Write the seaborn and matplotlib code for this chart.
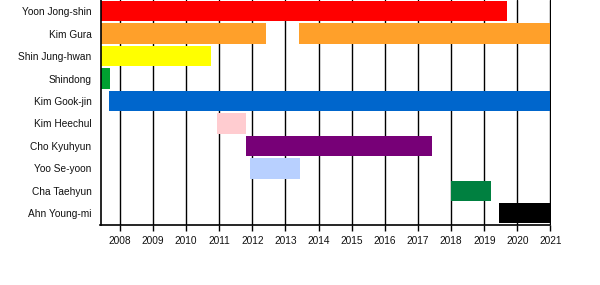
import matplotlib
matplotlib.use("Agg")
import matplotlib.pyplot as plt
import seaborn as sns

# ---- data ----
members = ["Yoon Jong-shin", "Kim Gura", "Shin Jung-hwan", "Shindong", "Kim Gook-jin",
           "Kim Heechul", "Cho Kyuhyun", "Yoo Se-yoon", "Cha Taehyun", "Ahn Young-mi"]
seg_member = ["Yoon Jong-shin", "Kim Gura", "Kim Gura", "Shin Jung-hwan", "Shindong",
              "Kim Gook-jin", "Kim Heechul", "Cho Kyuhyun", "Yoo Se-yoon", "Cha Taehyun",
              "Ahn Young-mi"]
seg_start = [2007.42, 2007.42, 2013.42, 2007.42, 2007.42,
             2007.67, 2010.94, 2011.80, 2011.92, 2017.99, 2019.45]
seg_end = [2019.68, 2012.40, 2021.0, 2010.74, 2007.70,
           2021.0, 2011.80, 2017.43, 2013.45, 2019.21, 2021.0]
seg_color = ["#FF0000", "#FFA02A", "#FFA02A", "#FFFF00", "#00A030",
             "#0066CC", "#FFCCD0", "#770077", "#B8D0FF", "#008040", "#000000"]
years = list(range(2008, 2022))

sns.set_theme(style="white")
plt.rcParams["font.family"] = ["Liberation Sans", "DejaVu Sans"]

fig = plt.figure(figsize=(6.0, 2.85), dpi=100)
ax = fig.add_axes([100.5 / 600, 1 - 224.5 / 285, 450 / 600, 224.5 / 285])

# year gridlines (behind bars)
for yr in years:
    ax.axvline(yr, color="black", lw=1.0, zorder=1)

ypos = {m: i for i, m in enumerate(members)}
ax.barh([ypos[m] for m in seg_member],
        [e - s for s, e in zip(seg_start, seg_end)],
        left=seg_start, height=0.91, color=seg_color, zorder=2, linewidth=0)

ax.set_xlim(2007.42, 2021.0)
ax.set_ylim(len(members) - 0.5, -0.5)
ax.set_yticks(range(len(members)))
ax.set_yticklabels(members, fontsize=7.3, color="#111111")
ax.set_xticks(years)
ax.set_xticklabels([str(y) for y in years], fontsize=7.3, color="#111111")
ax.tick_params(axis="y", length=0, pad=6.5)
ax.tick_params(axis="x", length=4, width=1, color="black", direction="out", pad=4, bottom=True)

for side in ["top", "right"]:
    ax.spines[side].set_visible(False)
for side in ["left", "bottom"]:
    ax.spines[side].set_color("black")
    ax.spines[side].set_linewidth(1.2)
    ax.spines[side].set_zorder(3)

fig.savefig("out.png", dpi=100, facecolor="white")
